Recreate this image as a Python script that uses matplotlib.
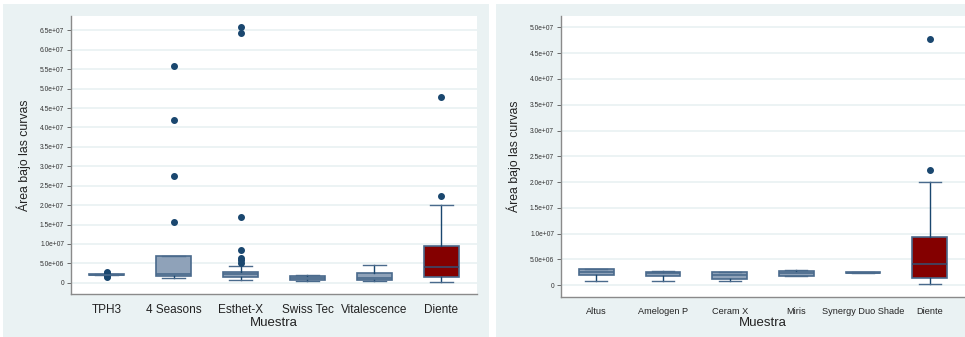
import matplotlib
matplotlib.use("Agg")
import matplotlib.pyplot as plt
from matplotlib.patches import Rectangle

plt.rcParams['font.family'] = ['Liberation Sans', 'DejaVu Sans']

# datos panel izquierdo
left_labels = ['TPH3', '4 Seasons', 'Esthet-X', 'Swiss Tec', 'Vitalescence', 'Diente']
left_q1 = [2.0e6, 1.8e6, 1.5e6, 0.7e6, 0.7e6, 1.5e6]
left_med = [2.1e6, 2.2e6, 2.2e6, 1.2e6, 1.2e6, 4.1e6]
left_q3 = [2.2e6, 7.0e6, 2.8e6, 1.65e6, 2.5e6, 9.4e6]
left_lo = [2.0e6, 1.1e6, 0.6e6, 0.5e6, 0.5e6, 0.25e6]
left_hi = [2.2e6, 7.0e6, 4.4e6, 2.05e6, 4.6e6, 2.0e7]
left_out = [[1.5e6, 1.7e6, 2.5e6, 2.8e6],
            [1.57e7, 2.76e7, 4.18e7, 5.57e7],
            [5.0e6, 5.8e6, 6.4e6, 8.4e6, 1.70e7, 6.43e7, 6.58e7],
            [], [],
            [2.24e7, 4.79e7]]

# datos panel derecho
right_labels = ['Altus', 'Amelogen P', 'Ceram X', 'Miris', 'Synergy Duo Shade', 'Diente']
right_q1 = [1.95e6, 1.85e6, 1.25e6, 1.85e6, 2.35e6, 1.5e6]
right_med = [2.5e6, 2.3e6, 2.0e6, 2.4e6, 2.45e6, 4.1e6]
right_q3 = [3.15e6, 2.6e6, 2.6e6, 2.8e6, 2.5e6, 9.4e6]
right_lo = [0.9e6, 0.8e6, 0.9e6, 1.8e6, 2.35e6, 0.25e6]
right_hi = [3.2e6, 2.7e6, 2.6e6, 2.9e6, 2.5e6, 2.0e7]
right_out = [[], [], [], [], [], [2.23e7, 4.78e7]]

left_ticks = [i * 5e6 for i in range(14)]
right_ticks = [i * 5e6 for i in range(11)]

BG = '#eaf2f3'
NAVY = '#1a476f'
FILL = '#8fa2b9'
EDGE = '#4a6a8c'
RED = '#840000'

W, H = 965, 337
fig = plt.figure(figsize=(W / 100, H / 100), dpi=100)
fig.patch.set_facecolor('white')

# fondos de los paneles
fig.patches.append(Rectangle((3 / W, 0), 486 / W, 333 / H, transform=fig.transFigure,
                             facecolor=BG, edgecolor='none', zorder=-10))
fig.patches.append(Rectangle((496 / W, 0), 469 / W, 333 / H, transform=fig.transFigure,
                             facecolor=BG, edgecolor='none', zorder=-10))


def draw(ax, labels, q1, med, q3, lo, hi, out, ticks, ylim, xfs, yfs):
    stats = []
    for i in range(len(labels)):
        stats.append(dict(q1=q1[i], med=med[i], q3=q3[i], whislo=lo[i], whishi=hi[i],
                          fliers=out[i], label=labels[i]))
    pos = list(range(len(labels)))
    bp = ax.bxp(stats, positions=pos, widths=0.52, capwidths=0.33, patch_artist=True,
                boxprops=dict(facecolor=FILL, edgecolor=EDGE, linewidth=1.2),
                medianprops=dict(color=EDGE, linewidth=1.2),
                whiskerprops=dict(color=NAVY, linewidth=1.0),
                capprops=dict(color=EDGE, linewidth=1.0),
                flierprops=dict(marker='o', markerfacecolor=NAVY, markeredgecolor=NAVY,
                                markersize=4, linestyle='none'))
    bp['boxes'][-1].set_facecolor(RED)
    bp['boxes'][-1].set_edgecolor(EDGE)
    bp['medians'][-1].set_color('#3a4a6a')
    ax.set_facecolor('white')
    ax.set_ylim(*ylim)
    ax.set_xlim(-0.53, len(labels) - 0.47)
    ax.set_yticks(ticks)
    ax.set_yticklabels(['0' if t == 0 else '%.1e' % t for t in ticks], fontsize=4.8, color='#333333')
    ax.set_xticks(pos)
    ax.set_xticklabels(labels, fontsize=xfs, color='#222222')
    ax.tick_params(axis='x', length=0, pad=7)
    ax.tick_params(axis='y', length=3, width=0.6, color='#555555', pad=2)
    ax.yaxis.grid(True, color=BG, linewidth=1.3)
    ax.set_axisbelow(True)
    for s in ['top', 'right']:
        ax.spines[s].set_visible(False)
    for s in ['left', 'bottom']:
        ax.spines[s].set_color('#8a8a8a')
        ax.spines[s].set_linewidth(1.0)
    ax.set_ylabel('Área bajo las curvas', fontsize=yfs, color='#222222', labelpad=6)
    ax.set_xlabel('Muestra', fontsize=9.5, color='#222222', labelpad=1)


ax1 = fig.add_axes([71 / W, 43 / H, 406 / W, 278 / H])
draw(ax1, left_labels, left_q1, left_med, left_q3, left_lo, left_hi, left_out,
     left_ticks, (-2.9e6, 6.87e7), 8.5, 8.8)

ax2 = fig.add_axes([561 / W, 40 / H, 404 / W, 281 / H])
draw(ax2, right_labels, right_q1, right_med, right_q3, right_lo, right_hi, right_out,
     right_ticks, (-2.27e6, 5.22e7), 6.6, 8.8)

fig.savefig('out.png', dpi=100, facecolor='white')
